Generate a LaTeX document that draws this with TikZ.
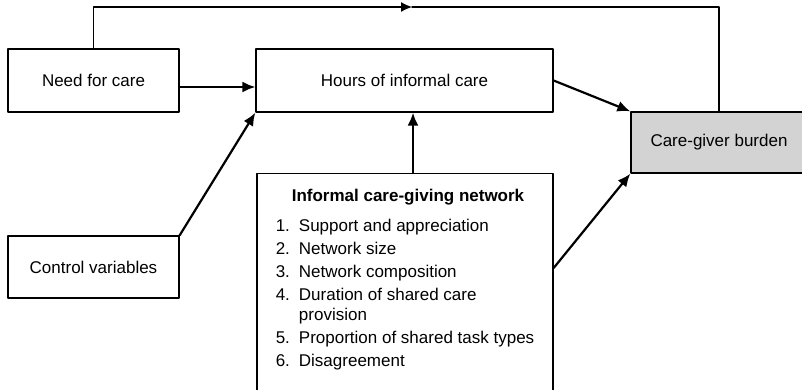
\documentclass[tikz,border=0pt]{standalone}
\usepackage{fontspec}
\setmainfont{Liberation Sans}
\usetikzlibrary{arrows.meta,positioning,calc}
\definecolor{burdengray}{RGB}{211,211,212}
\tikzstyle{every node}=[font=\fontsize{17}{20}\selectfont]
\tikzstyle{every path}=[line cap=round,line join=round]
\tikzstyle{box}=[draw,line width=1.3pt,rectangle,inner sep=0pt]
\tikzstyle{arr}=[line width=2.2pt,-{Latex[length=13pt,width=11pt]}]
\tikzstyle{fbline}=[line width=1.2pt]

\begin{document}
\begin{tikzpicture}[x=1pt,y=-1pt]
\useasboundingbox (0,0) rectangle (802,389);
\node[box,minimum width=171,minimum height=63] (need) at (93.5,80.5) {Need for care};
\node[box,minimum width=297,minimum height=63] (hours) at (404.5,80.5) {Hours of informal care};
\node[box,minimum width=171,minimum height=62] (control) at (93.5,267) {Control variables};
\node[box,fill=burdengray,minimum width=176,minimum height=61] (burden) at (719,142.5) {Care-giver burden};
% network box runs off the bottom
\node[box,anchor=north,minimum width=296,inner ysep=14pt] (network) at (405,173) {%
  \begin{tabular}{@{}r@{\hspace{9pt}}l@{}}
    \multicolumn{2}{c}{\hspace{6pt}\textbf{Informal care-giving network}}\\[10pt]
    1. & Support and appreciation\\[3pt]
    2. & Network size\\[3pt]
    3. & Network composition\\[3pt]
    4. & Duration of shared care\\
       & provision\\[3pt]
    5. & Proportion of shared task types\\[3pt]
    6. & Disagreement\\[14pt]
  \end{tabular}};
\coordinate (fbmid) at (412,7);
%
\draw[arr] ([yshift=-6.5pt]need.east) -- ([yshift=-6.5pt]hours.west);
\draw[arr] (control.north east) -- (hours.south west);
\draw[arr] ([xshift=8pt]network.north) -- ([xshift=8pt]network.north |- hours.south);
\draw[arr] (hours.east) -- (burden.north west);
\draw[arr] ([yshift=-95pt]network.north east) -- (burden.south west);
\draw[fbline,-{Latex[length=11pt,width=10pt]}] (need.north) |- (fbmid);
\draw[fbline] (fbmid) -| (burden.north);
\end{tikzpicture}
\end{document}
